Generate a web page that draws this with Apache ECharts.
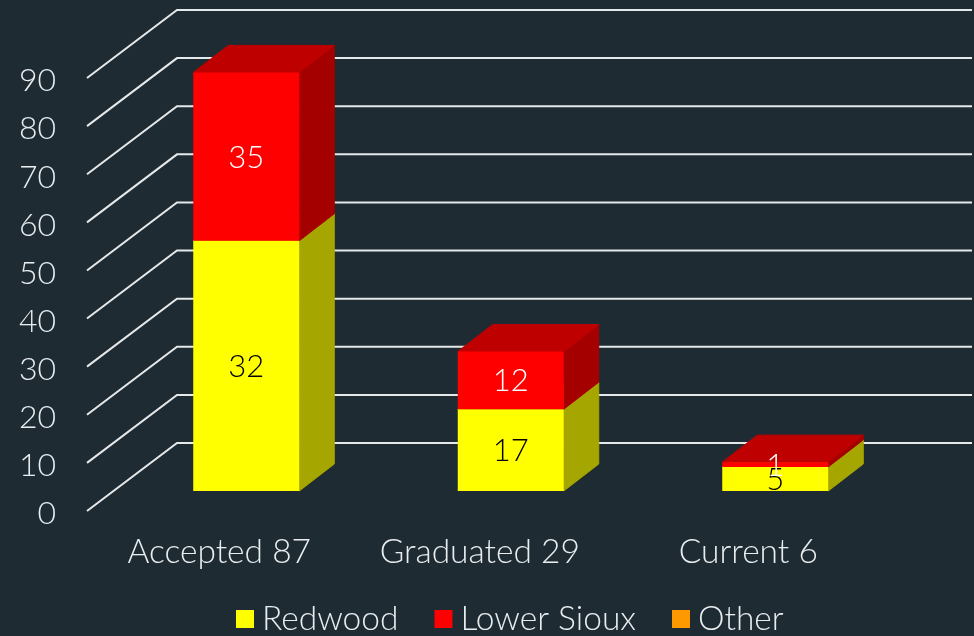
<!DOCTYPE html>
<html>
<head>
<meta charset="utf-8">
<title>Accepted, graduated and current</title>
<script src="https://cdn.jsdelivr.net/npm/echarts@6/dist/echarts.min.js"></script>
<style>
    html, body { margin: 0; padding: 0; background: #1e2b33; }
    .chart { width: 974px; height: 636px; }
</style>
</head>
<body>
<div class="chart"></div>
<script>
var categories = ['Accepted 87', 'Graduated 29', 'Current 6'];
var yTicks = [0, 10, 20, 30, 40, 50, 60, 70, 80, 90];

// bar heights as drawn
var redwood = [52, 17, 5];
var lowerSioux = [35, 12, 1];
var other = [0, 0, 0];

// printed labels: the first yellow bar is drawn 52 tall but printed 32
var redwoodLabels = [32, 17, 5];
var lowerSiouxLabels = [35, 12, 1];
var otherLabels = [0, 0, 0];

var FONT = 'Lato, sans-serif';
var TEXT = '#e8edef';

var chart = echarts.init(document.querySelector('.chart'));

// [category, base, top, label]
function stacked(values, labels, below) {
    return values.map(function (v, i) {
        return [i, below[i], below[i] + v, labels[i]];
    });
}

function barSeries(name, face, top, side, labelColor, data) {
    return {
        name: name,
        type: 'custom',
        itemStyle: { color: face },
        encode: { x: 0, y: [1, 2] },
        data: data,
        renderItem: function (params, api) {
            if (api.value(2) === api.value(1)) return null;
            var a = api.coord([api.value(0), api.value(1)]);
            var b = api.coord([api.value(0), api.value(2)]);
            var half = 53;
            // front face sits 27,-20 behind the axis plane, 35,-27 deep
            var l = a[0] - half + 27, r = a[0] + half + 27;
            var y0 = a[1] - 20, y1 = b[1] - 20;
            var dx = 35, dy = -27;
            return {
                type: 'group',
                children: [
                    { type: 'polygon', shape: { points: [[r, y0], [r + dx, y0 + dy], [r + dx, y1 + dy], [r, y1]] }, style: { fill: side, stroke: side, lineWidth: 1 } },
                    { type: 'polygon', shape: { points: [[l, y1], [r, y1], [r + dx, y1 + dy], [l + dx, y1 + dy]] }, style: { fill: top, stroke: top, lineWidth: 1 } },
                    { type: 'rect', shape: { x: l, y: y1, width: r - l, height: y0 - y1 }, style: { fill: face } },
                    {
                        type: 'text',
                        z2: 10,
                        style: {
                            x: (l + r) / 2,
                            y: (y0 + y1) / 2 + 1,
                            text: String(api.value(3)),
                            fill: labelColor,
                            font: '300 31px ' + FONT,
                            align: 'center',
                            verticalAlign: 'middle'
                        }
                    }
                ]
            };
        }
    };
}

var zeros = [0, 0, 0];
var redwoodTop = redwood.slice();
var siouxTop = redwood.map(function (v, i) { return v + lowerSioux[i]; });

var option = {
    animation: false,
    backgroundColor: '#1e2b33',
    grid: { left: 87, right: 93.5, top: 78, bottom: 125 },
    legend: {
        left: 236,
        top: 602,
        padding: 0,
        itemWidth: 18,
        itemHeight: 18,
        itemGap: 36,
        icon: 'rect',
        data: ['Redwood', 'Lower Sioux', 'Other'],
        textStyle: { color: TEXT, fontFamily: FONT, fontWeight: 300, fontSize: 33.5, padding: [0, 0, 0, 3] }
    },
    xAxis: {
        type: 'category',
        data: categories,
        axisLine: { show: false },
        axisTick: { show: false },
        axisLabel: {
            color: TEXT,
            fontFamily: FONT,
            fontWeight: 300,
            fontSize: 33.5,
            margin: 24,
            interval: 0,
            formatter: function (value) {
                return value === 'Graduated 29' ? '{g|' + value + '}' : value;
            },
            rich: { g: { color: TEXT, fontFamily: FONT, fontWeight: 300, fontSize: 33.5, padding: [0, 8, 0, 0] } }
        }
    },
    yAxis: {
        type: 'value',
        min: 0,
        max: 90,
        interval: 10,
        axisLine: { show: false },
        axisTick: { show: false },
        splitLine: { show: false },
        axisLabel: {
            color: TEXT,
            margin: 31,
            formatter: '{v|{value}}',
            rich: { v: { color: TEXT, fontFamily: FONT, fontWeight: 300, fontSize: 32, padding: [6, 0, 0, 0] } }
        }
    },
    series: [
        {
            name: 'wall',
            type: 'custom',
            silent: true,
            z: 1,
            encode: { y: 0 },
            data: yTicks.map(function (t) { return [t]; }),
            renderItem: function (params, api) {
                var y = api.coord([0, api.value(0)])[1];
                var x = params.coordSys.x;
                return {
                    type: 'polyline',
                    shape: { points: [[x, y], [x + 90, y - 68], [972, y - 68]] },
                    style: { stroke: '#e6e9ea', lineWidth: 2, fill: null }
                };
            }
        },
        barSeries('Redwood', '#ffff00', '#bfbf00', '#a6a600', '#000000', stacked(redwood, redwoodLabels, zeros)),
        barSeries('Lower Sioux', '#ff0000', '#bf0000', '#a50000', '#ffffff', stacked(lowerSioux, lowerSiouxLabels, redwoodTop)),
        barSeries('Other', '#ff9900', '#bf7300', '#a66300', '#ffffff', stacked(other, otherLabels, siouxTop))
    ]
};

chart.setOption(option);
</script>
</body>
</html>
